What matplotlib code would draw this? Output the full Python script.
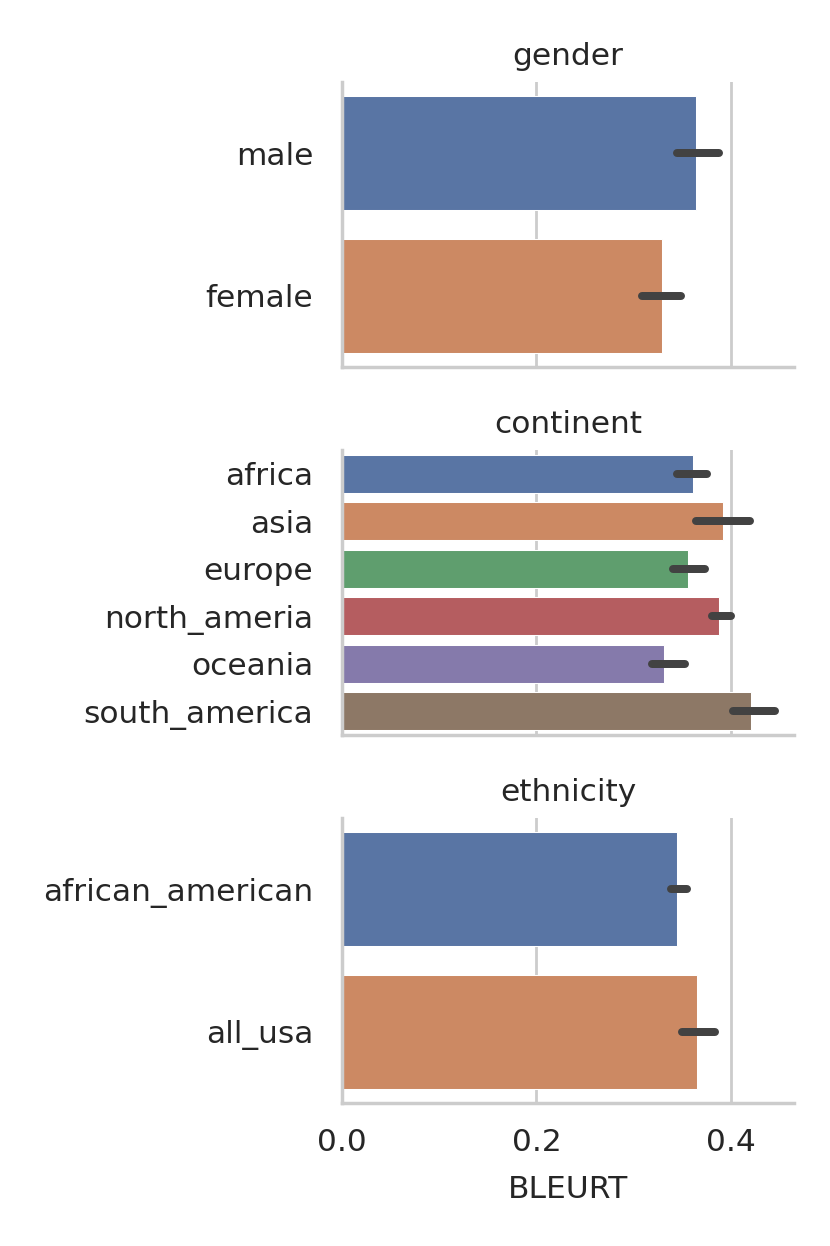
import matplotlib
matplotlib.use("Agg")
import matplotlib.pyplot as plt

# values (BLEURT mean, CI low, CI high)
gender = ["male", "female"]
gender_mean = [0.364, 0.329]
gender_lo = [0.345, 0.309]
gender_hi = [0.388, 0.349]

continent = ["africa", "asia", "europe", "north_ameria", "oceania", "south_america"]
continent_mean = [0.361, 0.392, 0.356, 0.388, 0.331, 0.421]
continent_lo = [0.345, 0.364, 0.341, 0.381, 0.319, 0.402]
continent_hi = [0.376, 0.420, 0.373, 0.400, 0.353, 0.445]

ethnicity = ["african_american", "all_usa"]
ethnicity_mean = [0.345, 0.365]
ethnicity_lo = [0.339, 0.350]
ethnicity_hi = [0.355, 0.384]

colors = ["#5975a4", "#cc8963", "#5f9e6e", "#b55d60", "#857aab", "#8d7866"]

txt = "#262626"
fs = 9.0

fig = plt.figure(figsize=(3.32, 4.984), dpi=250)

panels = [
    ("gender", gender, gender_mean, gender_lo, gender_hi, 0.7055),
    ("continent", continent, continent_mean, continent_lo, continent_hi, 0.4101),
    ("ethnicity", ethnicity, ethnicity_mean, ethnicity_lo, ethnicity_hi, 0.1148),
]

for i, (title, cats, mean, lo, hi, y0) in enumerate(panels):
    ax = fig.add_axes([0.412, y0, 0.5446, 0.2287])
    ax.set_axisbelow(True)
    ax.grid(axis="x", color="#cccccc", linewidth=0.8)
    pos = list(range(len(cats)))
    ax.barh(pos, mean, height=0.8, color=colors[:len(cats)], edgecolor="white", linewidth=0.3, zorder=2)
    for p, l, h in zip(pos, lo, hi):
        ax.plot([l, h], [p, p], color="#424242", linewidth=2.3, solid_capstyle="round", zorder=3)
    ax.set_ylim(len(cats) - 0.5, -0.5)
    ax.set_xlim(0, 0.465)
    ax.set_xticks([0.0, 0.2, 0.4])
    ax.set_yticks(pos)
    ax.set_yticklabels(cats)
    ax.tick_params(axis="y", length=0, pad=8.3, labelsize=fs, colors=txt)
    ax.tick_params(axis="x", length=0, pad=7.3, labelsize=fs, colors=txt)
    for s in ["top", "right"]:
        ax.spines[s].set_visible(False)
    for s in ["left", "bottom"]:
        ax.spines[s].set_color("#cccccc")
        ax.spines[s].set_linewidth(1.0)
    ax.set_title(title, fontsize=fs, color=txt, pad=4.8)
    if i < 2:
        ax.set_xticklabels([])
    else:
        ax.set_xlabel("BLEURT", fontsize=fs, color=txt, labelpad=5)

fig.savefig("out.png", dpi=250)
